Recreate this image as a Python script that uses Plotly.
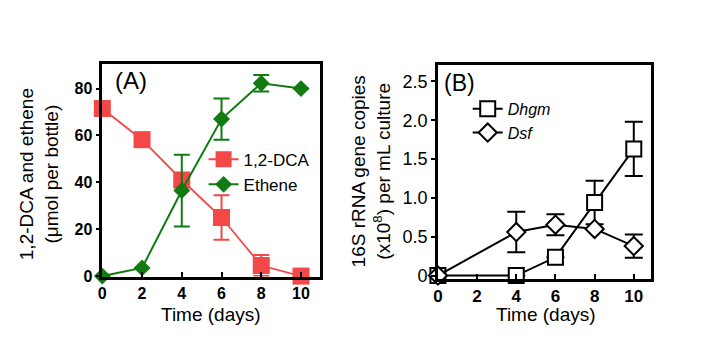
import plotly.graph_objects as go

# ---- data ----
time_a = [0, 2, 4, 6, 8, 10]
dca = [71.5, 58.2, 41.0, 25.0, 4.5, 0.0]
dca_err = [None, None, None, 9.5, 4.5, None]
ethene = [0.0, 3.5, 36.5, 67.0, 82.3, 80.0]
ethene_err = [None, None, 15.3, 8.8, 3.5, None]

time_b = [0, 4, 6, 8, 10]
dhgm = [0.0, 0.0, 0.235, 0.94, 1.63]
dhgm_err = [None, None, None, 0.28, 0.35]
dsf = [0.0, 0.56, 0.655, 0.60, 0.38]
dsf_err = [None, 0.26, 0.135, None, 0.15]

xticks = [0, 2, 4, 6, 8, 10]
yticks_a = [0, 20, 40, 60, 80]
yticks_b = [0, 0.5, 1.0, 1.5, 2.0, 2.5]
yticklabels_b = ["0", "0.5", "1.0", "1.5", "2.0", "2.5"]

RED = "#F24848"
GREEN = "#117A11"
FONT = "Liberation Sans, Arial, sans-serif"
W, H = 709, 352

fig = go.Figure()

fig.add_trace(go.Scatter(
    x=time_a, y=dca, name="1,2-DCA", mode="lines+markers",
    line=dict(color=RED, width=1.8),
    marker=dict(symbol="square", size=17, color=RED),
    error_y=dict(type="data", array=dca_err, color=RED, thickness=2, width=8),
    cliponaxis=False, xaxis="x", yaxis="y", legend="legend"))
fig.add_trace(go.Scatter(
    x=time_a, y=ethene, name="Ethene", mode="lines+markers",
    line=dict(color=GREEN, width=2),
    marker=dict(symbol="diamond", size=13, color=GREEN),
    error_y=dict(type="data", array=ethene_err, color=GREEN, thickness=2, width=8),
    cliponaxis=False, xaxis="x", yaxis="y", legend="legend"))

fig.add_trace(go.Scatter(
    x=time_b, y=dhgm, name="<i>Dhgm</i>", mode="lines+markers",
    line=dict(color="black", width=2),
    marker=dict(symbol="square", size=15, color="white",
                line=dict(color="black", width=2)),
    error_y=dict(type="data", array=dhgm_err, color="black", thickness=2, width=9),
    cliponaxis=False, xaxis="x2", yaxis="y2", legend="legend2"))
fig.add_trace(go.Scatter(
    x=time_b, y=dsf, name="<i>Dsf</i>", mode="lines+markers",
    line=dict(color="black", width=2),
    marker=dict(symbol="diamond", size=14, color="white",
                line=dict(color="black", width=2)),
    error_y=dict(type="data", array=dsf_err, color="black", thickness=2, width=9),
    cliponaxis=False, xaxis="x2", yaxis="y2", legend="legend2"))

axis_common = dict(showline=True, linecolor="black", linewidth=2.5, mirror=True,
                   showgrid=False, zeroline=False, ticks="outside",
                   tickcolor="black", tickwidth=2)

fig.update_layout(
    width=W, height=H,
    margin=dict(l=0, r=0, t=0, b=0),
    paper_bgcolor="white", plot_bgcolor="white",
    font=dict(family=FONT, color="black"),
    xaxis=dict(domain=[98 / W, 317.5 / W], range=[0, 10.97], anchor="y",
               tickvals=xticks, ticklen=5,
               tickfont=dict(size=16, weight="bold"), **{k: v for k, v in axis_common.items() if k != "ticks"}, ticks="inside"),
    yaxis=dict(domain=[(H - 283) / H, (H - 65.7) / H], range=[-0.2, 90.4], anchor="x",
               tickvals=yticks_a, ticklen=4,
               tickfont=dict(size=16, weight="bold"), **axis_common),
    xaxis2=dict(domain=[436 / W, 651 / W], range=[0, 10.9], anchor="y2",
                tickvals=xticks, ticklen=5,
                tickfont=dict(size=17, weight="bold"), **{k: v for k, v in axis_common.items() if k != "ticks"}, ticks="inside"),
    yaxis2=dict(domain=[(H - 285) / H, (H - 66.7) / H], range=[-0.038, 2.708], anchor="x2",
                tickvals=yticks_b, ticktext=yticklabels_b, ticklen=4,
                tickfont=dict(size=18), **axis_common),
    legend=dict(x=200 / W, y=1 - 145 / H, xanchor="left", yanchor="top",
                bgcolor="rgba(0,0,0,0)", font=dict(size=17, family=FONT),
                tracegroupgap=0),
    legend2=dict(x=466 / W, y=1 - 94 / H, xanchor="left", yanchor="top",
                 bgcolor="rgba(0,0,0,0)", font=dict(size=16, family=FONT),
                 tracegroupgap=0),
    showlegend=True,
)

annotations = [
    dict(text="(A)", x=109 / W, y=1 - 82 / H, xanchor="left", yanchor="middle",
         font=dict(size=24)),
    dict(text="(B)", x=440 / W, y=1 - 85 / H, xanchor="left", yanchor="middle",
         font=dict(size=23)),
    dict(text="1,2-DCA and ethene<br>(μmol per bottle)", x=34.5 / W, y=1 - 178 / H,
         xanchor="center", yanchor="middle", textangle=-90, font=dict(size=19)),
    dict(text="16S rRNA gene copies<br>(x10<sup>8</sup>) per mL culture", x=369 / W, y=1 - 175 / H,
         xanchor="center", yanchor="middle", textangle=-90, font=dict(size=19)),
    dict(text="Time (days)", x=207.5 / W, y=1 - 321.7 / H, xanchor="center", yanchor="middle",
         font=dict(size=19)),
    dict(text="Time (days)", x=545 / W, y=1 - 321.7 / H, xanchor="center", yanchor="middle",
         font=dict(size=19)),
]
for a in annotations:
    a.update(xref="paper", yref="paper", showarrow=False)
fig.update_layout(annotations=annotations)

fig.write_html("out.html")
